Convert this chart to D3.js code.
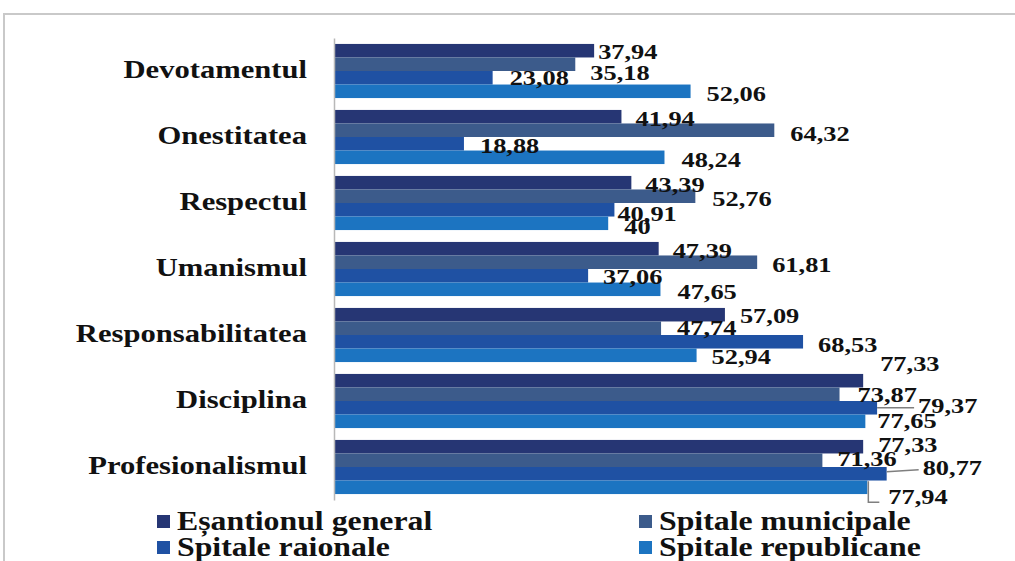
<!DOCTYPE html>
<html>
<head>
<meta charset="utf-8">
<script src="https://cdn.jsdelivr.net/npm/d3@7"></script>
<style>
  html, body { margin: 0; padding: 0; background: #fff; }
  svg { display: block; }
  text { font-family: "Liberation Serif", "Times New Roman", serif; font-weight: bold; fill: #111; }
</style>
</head>
<body>
<svg id="chart" width="1015" height="561"></svg>
<script>
// ---- data ----
const categories = ["Devotamentul", "Onestitatea", "Respectul", "Umanismul", "Responsabilitatea", "Disciplina", "Profesionalismul"];
const seriesNames = ["Eșantionul general", "Spitale municipale", "Spitale raionale", "Spitale republicane"];
const esantionGeneral   = [37.94, 41.94, 43.39, 47.39, 57.09, 77.33, 77.33];
const spitaleMunicipale = [35.18, 64.32, 52.76, 61.81, 47.74, 73.87, 71.36];
const spitaleRaionale   = [23.08, 18.88, 40.91, 37.06, 68.53, 79.37, 80.77];
const spitaleRepublicane= [52.06, 48.24, 40.00, 47.65, 52.94, 77.65, 77.94];
const seriesValues = [esantionGeneral, spitaleMunicipale, spitaleRaionale, spitaleRepublicane];

// ---- styles / layout (not data) ----
const colors = ["#263674", "#3c5b8b", "#1f51a3", "#1c74c1"];
// label nudges [dx, dy] per category, per series
const labelNudge = [
  [[4, 1], [15, 8], [17, 0], [16, 2]],
  [[14, 2], [16, 3], [16, 2], [17, 2]],
  [[14, 2], [17, 2], [3, 4], [16, 3]],
  [[14, 2], [15, 2], [15, 1], [17, 2]],
  [[15, 1], [16, -1], [15, 3], [15, 1]],
  [[17, -17], [18, 0], [41, -2], [12, -1]],
  [[15, -2], [15, -2], [36, -6], [21, 9]]
];
// leader lines: [categoryIndex, seriesIndex, shape]
const leaders = [[5, 2, "straight"], [6, 2, "straight"], [6, 3, "elbow"]];

const svg = d3.select("#chart");
const fmt = d3.formatLocale({decimal: ",", thousands: ".", grouping: [3], currency: ["", ""]}).format(".2~f");
const SX = 1.2; // horizontal stretch of text in the reference

// frame
svg.append("rect").attr("x", 4).attr("y", 14).attr("width", 1200).attr("height", 700)
  .attr("fill", "none").attr("stroke", "#c9c9c9").attr("stroke-width", 2);

const x = d3.scaleLinear().domain([0, 100]).range([335, 1018]);
const y = d3.scaleBand().domain(categories).range([38, 500]).paddingInner(0.18).paddingOuter(0.09);
const yi = d3.scaleBand().domain(d3.range(seriesNames.length)).range([0, y.bandwidth()]);

function stretchedText(sel, tx, ty, str, size, anchor, dy) {
  const g = sel.append("g").attr("transform", `translate(${tx},${ty}) scale(${SX},1)`);
  g.append("text").attr("x", 0).attr("y", 0).attr("dy", dy)
    .attr("text-anchor", anchor).style("font-size", size + "px").text(str);
  return g;
}

// bars
const rows = [];
categories.forEach((c, ci) => seriesValues.forEach((arr, si) => rows.push({c, ci, si, v: arr[ci]})));

svg.append("g").selectAll("rect").data(rows).join("rect")
  .attr("x", x(0))
  .attr("y", d => y(d.c) + yi(d.si))
  .attr("width", d => x(d.v) - x(0))
  .attr("height", yi.bandwidth())
  .attr("fill", d => colors[d.si]);

// axis line
const axis = d3.axisLeft(y).tickSize(0).tickFormat("");
svg.append("g").attr("transform", `translate(${x(0) - 1},0)`).call(axis)
  .call(g => g.select(".domain").attr("stroke", "#b8b8b8").attr("stroke-width", 1.5));

// category labels
const catG = svg.append("g");
categories.forEach(c => {
  stretchedText(catG, 307, y(c) + y.bandwidth() / 2 - 1, c, 25.5, "end", "0.33em");
});

// leader lines
const lg = svg.append("g").attr("stroke", "#7f7f7f").attr("stroke-width", 1.5).attr("fill", "none");
leaders.forEach(([ci, si, shape]) => {
  const v = seriesValues[si][ci];
  const bx = x(v), by = y(categories[ci]) + yi(si) + yi.bandwidth() / 2;
  const [dx, dy] = labelNudge[ci][si];
  const lx = bx + dx - 4, ly = by + 2 + dy;
  if (shape === "elbow") {
    lg.append("path").attr("d", `M${bx + 1},${by - 6} V${ly + 4} H${bx + 12}`);
  } else {
    lg.append("path").attr("d", `M${bx},${by + (dy < -3 ? -2 : 0)} L${lx},${ly}`);
  }
});

// value labels
const vg = svg.append("g");
rows.forEach(d => {
  const [dx, dy] = labelNudge[d.ci][d.si];
  const tx = x(d.v) + dx;
  const ty = y(d.c) + yi(d.si) + yi.bandwidth() / 2 + dy;
  stretchedText(vg, tx, ty, fmt(d.v), 22, "start", "0.35em");
});

// legend
const legendPos = [[157, 521], [639, 521], [157, 547], [639, 547]];
const leg = svg.append("g");
seriesNames.forEach((s, i) => {
  const [lx, ly] = legendPos[i];
  leg.append("rect").attr("x", lx).attr("y", ly - 6).attr("width", 13).attr("height", 13).attr("fill", colors[i]);
  stretchedText(leg, lx + 20, ly, s, 26.5, "start", "0.33em");
});
</script>
</body>
</html>
